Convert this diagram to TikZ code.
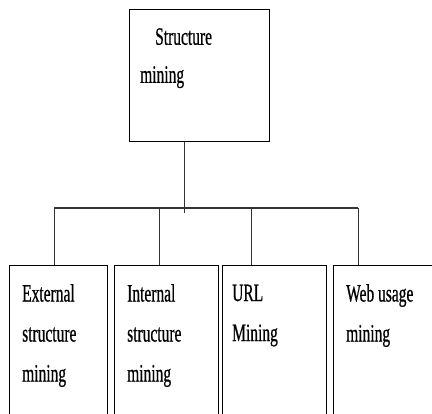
\documentclass[tikz,border=0pt]{standalone}
\usepackage{fontspec}
\setmainfont{Liberation Serif}[FakeStretch=0.62, FakeBold=0.6]
\usetikzlibrary{positioning}

\begin{document}
\begin{tikzpicture}[x=1pt, y=-1pt,
  box/.style={draw, line width=1.2pt, anchor=north west, inner sep=0pt, minimum width=#1},
  lbl/.style={font=\fontsize{25}{40}\selectfont, align=left, inner sep=0pt},
  link/.style={line width=0.9pt, black!80}]
\useasboundingbox (0,0) rectangle (432,414);
\clip (0,0) rectangle (432,414);
\node[box=140pt, minimum height=132pt] (top) at (129,9) {};
\node[box=98pt, minimum height=170pt] (ext) at (9,265) {};
\node[box=104pt, minimum height=170pt] (int) at (114,265) {};
\node[box=104pt, minimum height=170pt] (url) at (222,265) {};
\node[box=110pt, minimum height=170pt] (web) at (333,265) {};
\node[lbl, font=\fontsize{25}{38}\selectfont, below right=19pt and 11pt of top.north west] (top-txt) {\hspace*{15pt}Structure\\ mining};
\node[lbl, below right=19pt and 13pt of ext.north west] (ext-txt) {External\\ structure\\ mining};
\node[lbl, below right=19pt and 13pt of int.north west] (int-txt) {Internal\\ structure\\ mining};
\node[lbl, below right=19.5pt and 10pt of url.north west] (url-txt) {URL\\ Mining};
\node[lbl, below right=19pt and 13pt of web.north west] (web-txt) {Web usage\\ mining};
% where the lines meet the boxes
\coordinate (top-s) at ([xshift=55pt]top.south west);
\coordinate (ext-n) at ([xshift=45pt]ext.north west);
\coordinate (int-n) at ([xshift=45pt]int.north west);
\coordinate (url-n) at ([xshift=29pt]url.north west);
\coordinate (web-n) at ([xshift=25pt]web.north west);
\coordinate (stem) at (top-s |- 0,213);
\coordinate (busL) at (ext-n |- 0,208);
\coordinate (busR) at (web-n |- 0,208);
\draw[link] (top-s) -- (stem);
\draw[link, line width=1.2pt] (busL) -- (busR);
\draw[link] (busL) -- (ext-n);
\draw[link] (busL -| int-n) -- (int-n);
\draw[link] (busL -| url-n) -- (url-n);
\draw[link] (busR) -- (web-n);
\end{tikzpicture}
\end{document}
